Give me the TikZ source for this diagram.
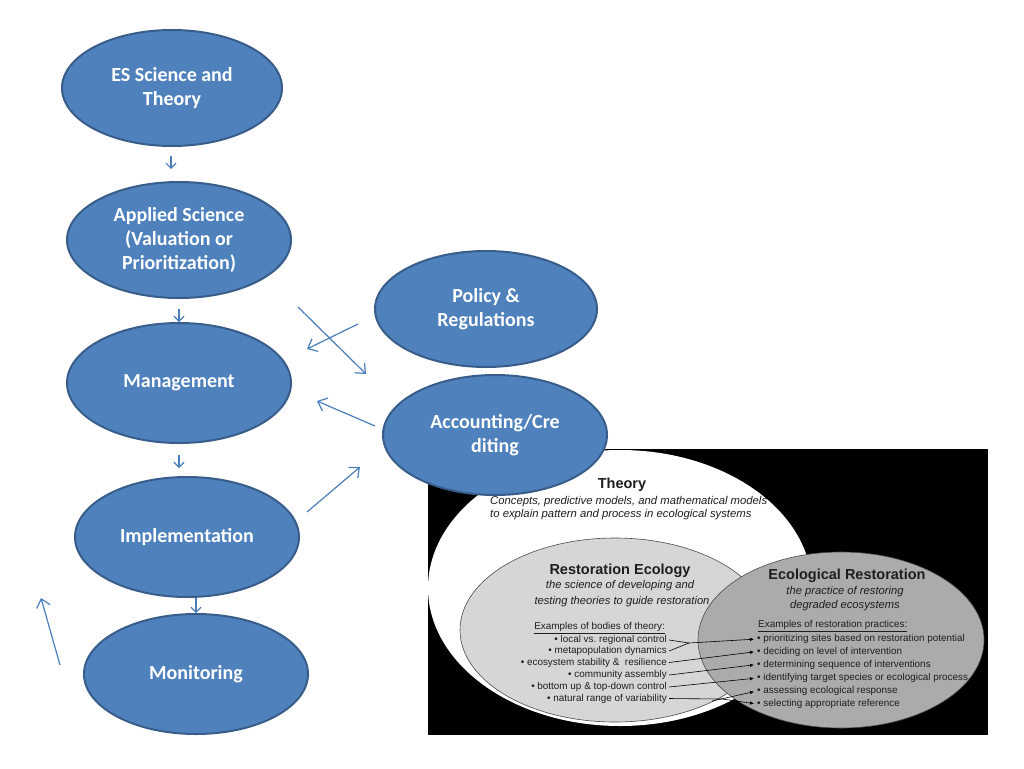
\documentclass[tikz,border=0pt]{standalone}
\usepackage{fontspec}
\setmainfont{Carlito}
\newfontfamily\arialf{Liberation Sans}
\usetikzlibrary{arrows.meta,shapes.geometric}
\definecolor{blfill}{HTML}{4F81BD}
\definecolor{bldraw}{HTML}{385D8A}
\definecolor{blline}{HTML}{4A7EBB}
\definecolor{figtext}{HTML}{1E1E1E}
\definecolor{lightg}{HTML}{D6D6D6}
\definecolor{darkg}{HTML}{ABABAB}
\begin{document}
\begin{tikzpicture}[x=1pt,y=-1pt,
  blob/.style={ellipse, fill=blfill, draw=bldraw, line width=2pt, text=white,
    font=\fontsize{20}{24}\selectfont\bfseries, align=center, inner sep=0pt,
    minimum width=224pt, minimum height=118pt},
  flow/.style={draw=blline, line width=1.2pt, -{Straight Barb[length=5pt,width=10pt]}},
  bigflow/.style={draw=blline, line width=1.2pt, -{Straight Barb[length=8pt,width=14pt]}},
  head/.style={font=\arialf\bfseries\fontsize{14.5}{17}\selectfont, text=figtext, inner sep=0pt},
  sub/.style={font=\arialf\itshape\fontsize{11.2}{14}\selectfont, text=figtext, inner sep=0pt},
  item/.style={font=\arialf\fontsize{9.9}{12}\selectfont, text=figtext, inner sep=0pt},
  link/.style={draw=black, line width=0.6pt},
  linkarr/.style={draw=black, line width=0.6pt, -{Latex[length=4pt,width=3.5pt]}, shorten >=3pt},
]
\useasboundingbox (0,0) rectangle (1024,768);

% ---------- embedded figure ----------
\fill[black] (428,449) rectangle (988,735);
\begin{scope}
  \clip (428,449) rectangle (988,735);
  \fill[white] (620,588) ellipse [x radius=192pt, y radius=138pt];
  \filldraw[fill=lightg, draw=black!70, line width=0.6pt] (615,630) ellipse [x radius=155pt, y radius=92pt];
  \filldraw[fill=darkg, draw=black!70, line width=0.6pt] (841,640) ellipse [x radius=143pt, y radius=88pt];
\end{scope}

\node[head] (th) at (622,485) {Theory};
\node[sub, anchor=west, align=left, font=\arialf\itshape\fontsize{11.3}{13}\selectfont] (thd) at (490,508.5)
  {Concepts, predictive models, and mathematical models\\to explain pattern and process in ecological systems};

\node[head] (re) at (620,571) {Restoration Ecology};
\node[sub] (re1) at (620,586) {the science of developing and};
\node[sub] (re2) at (622,602) {testing theories to guide restoration};

\node[head] (er) at (847,576) {Ecological Restoration};
\node[sub] (er1) at (845,592) {the practice of restoring};
\node[sub] (er2) at (845,606) {degraded ecosystems};

\node[item, anchor=east] (lh) at (665,628) {\underline{Examples of bodies of theory:}};
\node[item, anchor=east] (l1) at (667,640) {• local vs.\ regional control};
\node[item, anchor=east] (l2) at (667,651) {• metapopulation dynamics};
\node[item, anchor=east] (l3) at (667,662.5) {• ecosystem stability \&\ \ resilience};
\node[item, anchor=east] (l4) at (667,675) {• community assembly};
\node[item, anchor=east] (l5) at (667,687) {• bottom up \& top-down control};
\node[item, anchor=east] (l6) at (667,698.5) {• natural range of variability};

\node[item, anchor=west] (rh) at (758,626) {\underline{Examples of restoration practices:}};
\node[item, anchor=west] (r1) at (757,639) {• prioritizing sites based on restoration potential};
\node[item, anchor=west] (r2) at (757,651.5) {• deciding on level of intervention};
\node[item, anchor=west] (r3) at (757,664.5) {• determining sequence of interventions};
\node[item, anchor=west] (r4) at (757,678) {• identifying target species or ecological process};
\node[item, anchor=west] (r5) at (757,691) {• assessing ecological response};
\node[item, anchor=west] (r6) at (757,704) {• selecting appropriate reference};

\coordinate (j1) at (689,643);
\coordinate (j6) at (722,699);
\coordinate (j7) at (712,701);
\draw[link] ([xshift=2pt]l1.east) -- (j1);
\draw[link] ([xshift=2pt]l2.east) -- (j1);
\draw[linkarr] (j1) -- (r1.west);
\draw[linkarr] ([xshift=2pt]l3.east) -- (r2.west);
\draw[linkarr] ([xshift=2pt]l4.east) -- (r3.west);
\draw[linkarr] ([xshift=2pt]l5.east) -- (r4.west);
\draw[link] ([xshift=2pt]l6.east) -- (j6);
\draw[linkarr] (j7) -- (r5.west);
\draw[linkarr] (j6) -- (r6.west);

% ---------- blue flow ----------
\node[blob, minimum width=220pt, minimum height=116pt] (es) at (172,88) {ES Science and\\Theory};
\node[blob, minimum height=116pt] (app) at (179,240) {Applied Science\\(Valuation or\\Prioritization)};
\node[blob, minimum height=120pt] (man) at (179,383) {Management};
\node[blob, minimum height=120pt] (imp) at (187,537) {Implementation};
\node[blob, minimum height=120pt] (mon) at (196,674) {Monitoring};
\node[blob, minimum width=222pt, minimum height=116pt] (pol) at (486,309) {Policy \&\\Regulations};
\node[blob, minimum height=120pt] (acc) at (495,435) {Accounting/Cre\\diting};

\coordinate (a1s) at (171,156); \coordinate (a1e) at (171,169);
\coordinate (a2s) at (179,309); \coordinate (a2e) at (179,322);
\coordinate (a3s) at (179,455); \coordinate (a3e) at (179,468);
\coordinate (a4s) at (196,598); \coordinate (a4e) at (196,613);
\coordinate (a5s) at (60,665);  \coordinate (a5e) at (41,598);
\coordinate (a6s) at (298,307); \coordinate (a6e) at (366,374);
\coordinate (a7s) at (358,324); \coordinate (a7e) at (307,349);
\coordinate (a8s) at (375,426); \coordinate (a8e) at (317,401);
\coordinate (a9s) at (307,512); \coordinate (a9e) at (360,467);

\draw[flow] (a1s) -- (a1e);
\draw[flow] (a2s) -- (a2e);
\draw[flow] (a3s) -- (a3e);
\draw[flow] (a4s) -- (a4e);
\draw[bigflow] (a5s) -- (a5e);
\draw[bigflow] (a6s) -- (a6e);
\draw[bigflow] (a7s) -- (a7e);
\draw[bigflow] (a8s) -- (a8e);
\draw[bigflow] (a9s) -- (a9e);
\end{tikzpicture}
\end{document}
